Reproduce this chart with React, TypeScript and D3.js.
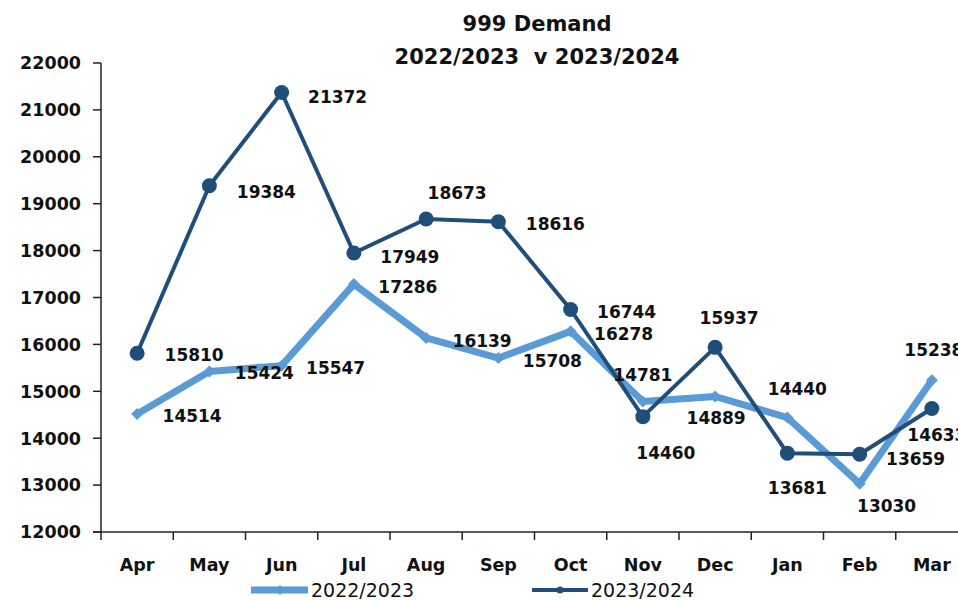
import React from "react";
import * as d3 from "d3";

const months = ["Apr", "May", "Jun", "Jul", "Aug", "Sep", "Oct", "Nov", "Dec", "Jan", "Feb", "Mar"];
const series2223 = [14514, 15424, 15547, 17286, 16139, 15708, 16278, 14781, 14889, 14440, 13030, 15238];
const series2324 = [15810, 19384, 21372, 17949, 18673, 18616, 16744, 14460, 15937, 13681, 13659, 14633];
const yTicks = [12000, 13000, 14000, 15000, 16000, 17000, 18000, 19000, 20000, 21000, 22000];
const seriesNames = ["2022/2023", "2023/2024"];
const titleLines = ["999 Demand", "2022/2023  v 2023/2024"];

// label offsets (layout): [dx, dy] from point to label centre
const lblOff2223: [number, number][] = [
  [55, 2], [55, 1], [54, 2], [54, 3], [56, 3], [54, 3], [53, 3], [0, -27], [1, 21], [10, -29], [27, 22], [2, -30],
];
const lblOff2324: [number, number][] = [
  [57, 2], [57, 6], [56, 4], [56, 4], [31, -26], [57, 2], [56, 2], [23, 36], [14, -29], [10, 35], [56, 5], [5, 26],
];

const LIGHT = "#5b9bd5";
const DARK = "#1f4e79";
const FONT = "'DejaVu Sans', Verdana, sans-serif";

export default function App() {
  const W = 958, H = 600;
  const x0 = 101, x1 = 968, yTop = 63, yBot = 532;
  const x = d3.scaleBand<string>().domain(months).range([x0, x1]);
  const y = d3.scaleLinear().domain([12000, 22000]).range([yBot, yTop]);
  const cx = (m: string) => (x(m) as number) + x.bandwidth() / 2;
  const line = d3.line<number>().x((_, i) => cx(months[i])).y((v) => y(v));

  const tickXs = months.map((m) => x(m) as number).concat([x1]);

  return (
    <svg width={W} height={H} style={{ position: "absolute", left: 0, top: 0, background: "#fff" }} fontFamily={FONT}>
      {/* title */}
      {titleLines.map((t, i) => (
        <text key={t} x={537} y={31 + i * 33} textAnchor="middle" fontWeight="bold" fontSize={21} fill="#111" xmlSpace="preserve" style={{ whiteSpace: "pre" }}>
          {t}
        </text>
      ))}
      {/* y axis */}
      <line x1={x0} x2={x0} y1={yTop} y2={yBot} stroke="#222" strokeWidth={1.5} />
      {yTicks.map((t) => (
        <g key={t}>
          <line x1={x0 - 8} x2={x0} y1={y(t)} y2={y(t)} stroke="#222" strokeWidth={1.5} />
          <text x={81} y={y(t)} dy="0.36em" textAnchor="end" fontWeight="bold" fontSize={17.5} fill="#111">
            {t}
          </text>
        </g>
      ))}
      {/* x axis */}
      <line x1={x0 - 8} x2={W} y1={yBot} y2={yBot} stroke="#222" strokeWidth={1.5} />
      {tickXs.map((tx, i) => (
        <line key={i} x1={tx} x2={tx} y1={yBot} y2={yBot + 8} stroke="#222" strokeWidth={1.5} />
      ))}
      {months.map((m) => (
        <text key={m} x={cx(m)} y={571} textAnchor="middle" fontWeight="bold" fontSize={17.5} fill="#111">
          {m}
        </text>
      ))}
      {/* series 2022/2023 */}
      <path d={line(series2223) || ""} fill="none" stroke={LIGHT} strokeWidth={7} strokeLinejoin="round" />
      {series2223.map((v, i) => {
        const px = cx(months[i]), py = y(v);
        return <path key={i} d={`M${px},${py - 6}L${px + 6},${py}L${px},${py + 6}L${px - 6},${py}Z`} fill={LIGHT} />;
      })}
      {/* series 2023/2024 */}
      <path d={line(series2324) || ""} fill="none" stroke={DARK} strokeWidth={4} strokeLinejoin="round" />
      {series2324.map((v, i) => (
        <circle key={i} cx={cx(months[i])} cy={y(v)} r={7.5} fill={DARK} />
      ))}
      {/* data labels */}
      {series2223.map((v, i) => (
        <text key={"l" + i} x={cx(months[i]) + lblOff2223[i][0]} y={y(v) + lblOff2223[i][1]} dy="0.36em" textAnchor="middle" fontWeight="bold" fontSize={17} fill="#111">
          {v}
        </text>
      ))}
      {series2324.map((v, i) => (
        <text key={"d" + i} x={cx(months[i]) + lblOff2324[i][0]} y={y(v) + lblOff2324[i][1]} dy="0.36em" textAnchor="middle" fontWeight="bold" fontSize={17} fill="#111">
          {v}
        </text>
      ))}
      {/* legend */}
      <g>
        <line x1={251} x2={308} y1={590} y2={590} stroke={LIGHT} strokeWidth={7} />
        <path d="M280,585L285,590L280,595L275,590Z" fill={LIGHT} />
        <text x={311} y={597} fontSize={19} fill="#111">{seriesNames[0]}</text>
        <line x1={532} x2={588} y1={590} y2={590} stroke={DARK} strokeWidth={4} />
        <circle cx={560} cy={590} r={3.5} fill={DARK} />
        <text x={591} y={597} fontSize={19} fill="#111">{seriesNames[1]}</text>
      </g>
    </svg>
  );
}
